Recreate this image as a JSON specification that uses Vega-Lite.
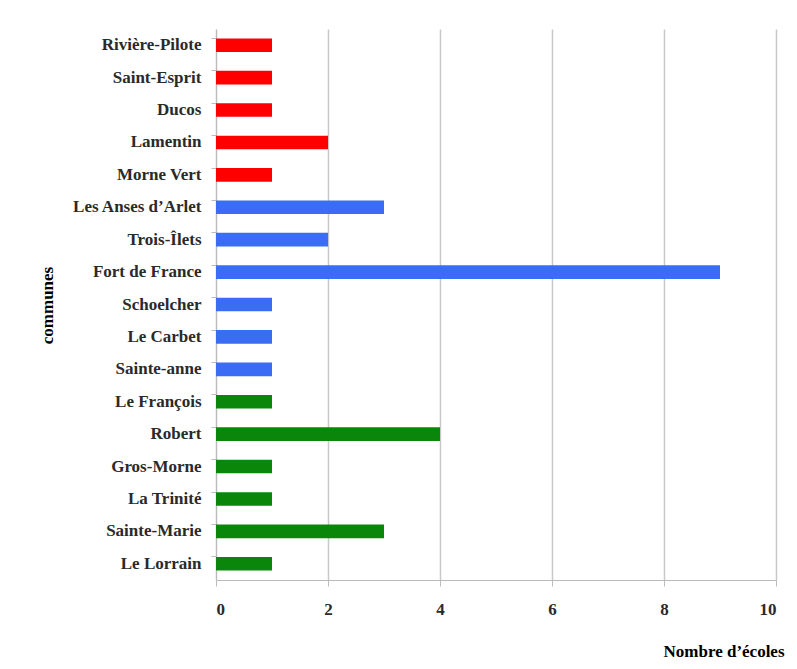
{
  "$schema": "https://vega.github.io/schema/vega-lite/v6.json",
  "autosize": "none",
  "width": 560,
  "height": 551,
  "padding": {"left": 216, "top": 29, "right": 21, "bottom": 89},
  "background": "white",
  "data": {
    "values": [
      {"commune": "Rivière-Pilote", "ecoles": 1, "zone": "Sud"},
      {"commune": "Saint-Esprit", "ecoles": 1, "zone": "Sud"},
      {"commune": "Ducos", "ecoles": 1, "zone": "Sud"},
      {"commune": "Lamentin", "ecoles": 2, "zone": "Sud"},
      {"commune": "Morne Vert", "ecoles": 1, "zone": "Sud"},
      {"commune": "Les Anses d’Arlet", "ecoles": 3, "zone": "Centre"},
      {"commune": "Trois-Îlets", "ecoles": 2, "zone": "Centre"},
      {"commune": "Fort de France", "ecoles": 9, "zone": "Centre"},
      {"commune": "Schoelcher", "ecoles": 1, "zone": "Centre"},
      {"commune": "Le Carbet", "ecoles": 1, "zone": "Centre"},
      {"commune": "Sainte-anne", "ecoles": 1, "zone": "Centre"},
      {"commune": "Le François", "ecoles": 1, "zone": "Nord"},
      {"commune": "Robert", "ecoles": 4, "zone": "Nord"},
      {"commune": "Gros-Morne", "ecoles": 1, "zone": "Nord"},
      {"commune": "La Trinité", "ecoles": 1, "zone": "Nord"},
      {"commune": "Sainte-Marie", "ecoles": 3, "zone": "Nord"},
      {"commune": "Le Lorrain", "ecoles": 1, "zone": "Nord"}
    ]
  },
  "mark": {"type": "bar"},
  "encoding": {
    "y": {
      "field": "commune",
      "type": "nominal",
      "sort": null,
      "scale": {"paddingInner": 0.58, "paddingOuter": 0.29},
      "axis": {
        "title": "communes",
        "titleFont": "Liberation Serif",
        "titleFontSize": 17,
        "titleFontWeight": "bold",
        "titleColor": "#000000",
        "titleX": -169,
        "titleY": 276,
        "titleAngle": -90,
        "titleAlign": "center",
        "titleBaseline": "middle",
        "labelFont": "Liberation Serif",
        "labelFontSize": 17,
        "labelFontWeight": "bold",
        "labelColor": "#2a2a2a",
        "labelPadding": 10,
        "bandPosition": 0,
        "tickSize": 5,
        "tickColor": "#bbbbbb",
        "domainColor": "#bbbbbb",
        "grid": false
      }
    },
    "x": {
      "field": "ecoles",
      "type": "quantitative",
      "scale": {"domain": [0, 10], "nice": false},
      "axis": {
        "values": [0, 2, 4, 6, 8, 10],
        "title": "Nombre d’écoles",
        "titleFont": "Liberation Serif",
        "titleFontSize": 17,
        "titleFontWeight": "bold",
        "titleColor": "#000000",
        "titleX": 447,
        "titleY": 71,
        "titleAlign": "left",
        "titleBaseline": "middle",
        "labelFont": "Liberation Serif",
        "labelFontSize": 17,
        "labelFontWeight": "bold",
        "labelColor": "#2a2a2a",
        "labelPadding": 15,
        "tickSize": 6,
        "tickColor": "#bbbbbb",
        "domainColor": "#bbbbbb",
        "grid": true,
        "gridColor": "#c8c8c8",
        "gridWidth": 1.5
      }
    },
    "color": {
      "field": "zone",
      "type": "nominal",
      "scale": {"domain": ["Sud", "Centre", "Nord"], "range": ["#ff0000", "#3a6cf4", "#0a870a"]},
      "legend": null
    }
  },
  "config": {"view": {"stroke": null}}
}
